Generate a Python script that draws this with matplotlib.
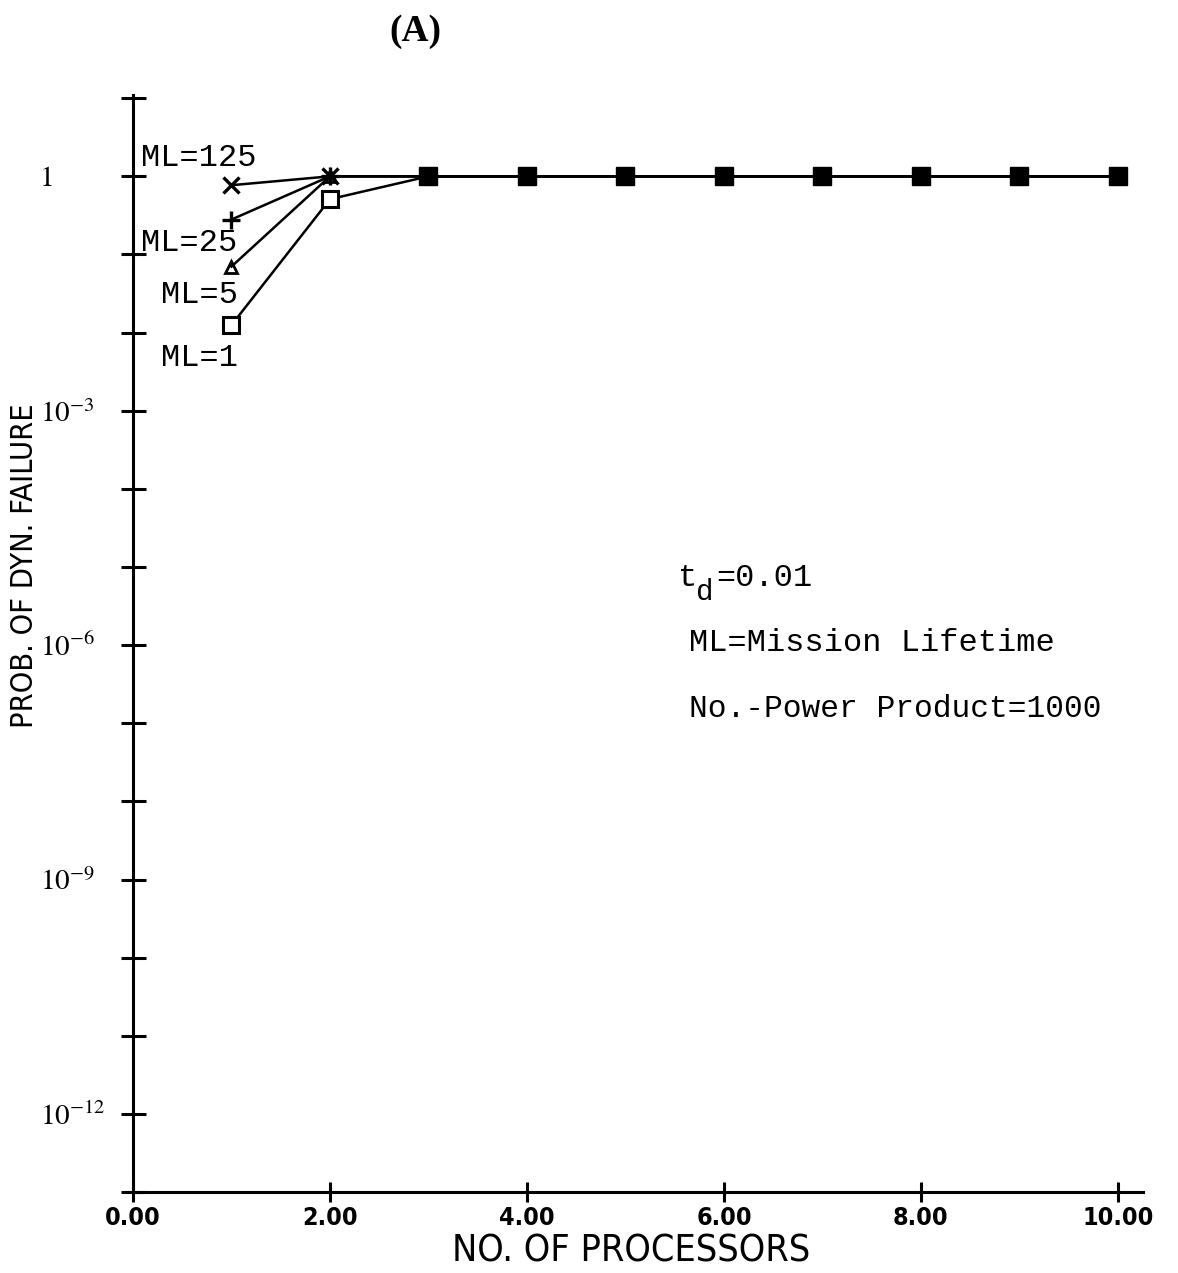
import numpy as np
import matplotlib
matplotlib.use("Agg")
import matplotlib.pyplot as plt

plt.rcParams['mathtext.fontset'] = 'stix'

processors = [1, 2, 3, 4, 5, 6, 7, 8, 9, 10]
ml_labels = ['ML=125', 'ML=25', 'ML=5', 'ML=1']
ml_125 = [0.77, 1, 1, 1, 1, 1, 1, 1, 1, 1]
ml_25 = [0.28, 1, 1, 1, 1, 1, 1, 1, 1, 1]
ml_5 = [0.07, 1, 1, 1, 1, 1, 1, 1, 1, 1]
ml_1 = [0.0125, 0.51, 1, 1, 1, 1, 1, 1, 1, 1]

ytick_vals = [10.0 ** e for e in range(-13, 2)]
ytick_text = {0: '1', -3: r'$10^{-3}$', -6: r'$10^{-6}$', -9: r'$10^{-9}$', -12: r'$10^{-12}$'}
xtick_vals = [0, 2, 4, 6, 8, 10]

W, H = 1178, 1273
fig = plt.figure(figsize=(W / 100, H / 100), dpi=100)
ax = fig.add_axes([0.1129, 0.0636, 0.857, 0.8618])

lw = 1.8
ax.plot(processors, ml_125, '-', marker='x', ms=12, mew=2.4, color='black', lw=lw)
ax.plot(processors, ml_25, '-', marker='+', ms=13, mew=2.4, color='black', lw=lw)
ax.plot(processors, ml_5, '-', marker='^', ms=9, mew=2, mfc='none', color='black', lw=lw)
ax.plot(processors, ml_1, '-', marker='s', ms=12, mew=2.2, mfc='white', color='black', lw=lw,
        markevery=[0, 1])
ax.plot(processors[2:], ml_1[2:], ls='none', marker='s', ms=13, color='black')

ax.set_yscale('log')
ax.set_ylim(1e-13, 1.1e1)
ax.set_xlim(0, 10.25)

for s in ['top', 'right']:
    ax.spines[s].set_visible(False)
for s in ['left', 'bottom']:
    ax.spines[s].set_linewidth(2.2)

ax.set_yticks(ytick_vals)
ax.set_yticklabels([ytick_text.get(int(round(np.log10(v))), '') for v in ytick_vals],
                   fontsize=21, family='STIXGeneral', ha='left')
ax.yaxis.set_minor_locator(matplotlib.ticker.NullLocator())
ax.tick_params(axis='y', direction='inout', length=18, width=2.2, pad=58)

ax.set_xticks(xtick_vals)
ax.set_xticklabels(['%.2f' % v for v in xtick_vals], fontsize=18, fontweight='bold',
                   fontstretch='condensed', family='DejaVu Sans')
ax.tick_params(axis='x', direction='inout', length=14, width=2.2, pad=3)

fig.text(0.0212, 0.556, 'PROB. OF DYN. FAILURE', rotation=90, ha='center', va='center',
         fontsize=22, fontstretch='condensed')
fig.text(0.536, 0.017, 'NO. OF PROCESSORS', ha='center', va='center',
         fontsize=27, fontstretch='condensed')

fig.text(0.353, 0.975, '(A)', ha='center', va='center', fontsize=27,
         fontweight='bold', family='Liberation Serif')

mono = 'Liberation Mono'
fs = 23
label_pos = [(0.120, 0.876), (0.120, 0.809), (0.137, 0.768), (0.137, 0.719)]
for lab, (px, py) in zip(ml_labels, label_pos):
    fig.text(px, py, lab, ha='left', va='center', fontsize=fs, family=mono)

# t_d = 0.01 built from pieces (subscript d)
fig.text(678 / W, 1 - 578 / H, 't', ha='left', va='center', fontsize=fs, family=mono)
fig.text(696 / W, 1 - 592 / H, 'd', ha='left', va='center', fontsize=21, family=mono)
fig.text(716 / W, 1 - 578 / H, '=0.01', ha='left', va='center', fontsize=fs, family=mono)
fig.text(0.585, 0.495, 'ML=Mission Lifetime', ha='left', va='center', fontsize=fs, family=mono)
fig.text(0.585, 0.443, 'No.-Power Product=1000', ha='left', va='center', fontsize=22.5, family=mono)

fig.savefig('out.png', dpi=100)
